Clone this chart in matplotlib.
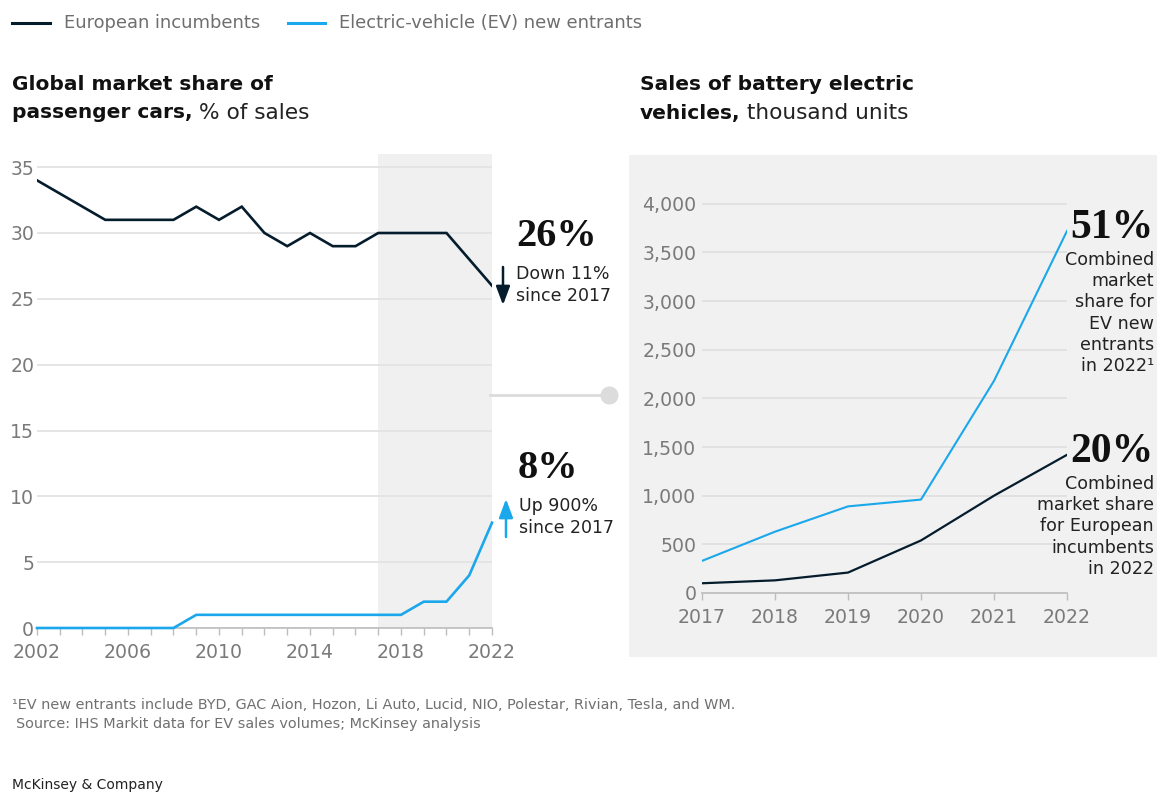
import matplotlib
matplotlib.use("Agg")
import matplotlib.pyplot as plt
from matplotlib.lines import Line2D
from matplotlib.patches import Rectangle
from matplotlib.ticker import FixedLocator, FuncFormatter

# ---------------- data ----------------
years_left = list(range(2002, 2023))
incumbents_share = [34, 33, 32, 31, 31, 31, 31, 32, 31, 32, 30, 29, 30, 29, 29, 30, 30, 30, 30, 28, 26]
ev_share = [0, 0, 0, 0, 0, 0, 0, 1, 1, 1, 1, 1, 1, 1, 1, 1, 1, 2, 2, 4, 8]
left_xticks = [2002, 2006, 2010, 2014, 2018, 2022]
left_yticks = [0, 5, 10, 15, 20, 25, 30, 35]

years_right = [2017, 2018, 2019, 2020, 2021, 2022]
ev_sales = [330, 630, 890, 960, 2180, 3720]
incumbent_sales = [100, 130, 210, 540, 1000, 1420]
right_yticks = [0, 500, 1000, 1500, 2000, 2500, 3000, 3500, 4000]

# ---------------- style ----------------
W, H = 1157, 793
DARK = "#051C2C"
BLUE = "#1AA7EC"
GRID = "#E3E3E3"
SHADE = "#F0F0F0"
TICKC = "#7A7A7A"
TEXTG = "#6E6E6E"
SANS = "DejaVu Sans"
SERIF = "Liberation Serif"

plt.rcParams["font.family"] = [SANS]

fig = plt.figure(figsize=(W / 100, H / 100), dpi=100)
fig.patch.set_facecolor("white")


def fx(x):
    return x / W


def fy(y):
    return 1 - y / H


def add_axes_px(x0, y_top, x1, y_bot):
    return fig.add_axes([fx(x0), fy(y_bot), fx(x1) - fx(x0), fy(y_top) - fy(y_bot)])


# right gray panel
fig.patches.append(Rectangle((fx(629), fy(657)), fx(1157) - fx(629), fy(155) - fy(657),
                             transform=fig.transFigure, facecolor="#F1F1F1", edgecolor="none", zorder=-5))

# ---------------- legend ----------------
fig.add_artist(Line2D([fx(12), fx(50)], [fy(23), fy(23)], color=DARK, lw=2.2))
fig.text(fx(64), fy(23), "European incumbents", fontsize=12.9, color=TEXTG, va="center", ha="left")
fig.add_artist(Line2D([fx(288), fx(325)], [fy(23), fy(23)], color=BLUE, lw=2.2))
fig.text(fx(339), fy(23), "Electric-vehicle (EV) new entrants", fontsize=12.9, color=TEXTG, va="center", ha="left")

# ---------------- titles ----------------
def title(x, y1, y2, l1, l2b, l2r):
    fig.text(fx(x), fy(y1), l1, fontsize=14.5, fontweight="bold", color="#111111", va="center", ha="left")
    t = fig.text(fx(x), fy(y2), l2b, fontsize=14.5, fontweight="bold", color="#111111", va="center", ha="left")
    fig.add_artist(plt.Annotation(l2r, xy=(1, 0.5), xycoords=t, fontsize=15.6, color="#222222",
                                  va="center", ha="left"))


title(12, 84, 113, "Global market share of", "passenger cars,", " % of sales")
title(640, 84, 113, "Sales of battery electric", "vehicles,", " thousand units")

# ---------------- left chart ----------------
axL = add_axes_px(37, 154, 492, 628)
axL.set_facecolor("none")
axL.set_xlim(2002, 2022)
axL.set_ylim(0, 36)
axL.axvspan(2017, 2022, color=SHADE, zorder=0, lw=0)
for v in left_yticks:
    axL.axhline(v, color=GRID, lw=1.3, zorder=1)
axL.plot(years_left, incumbents_share, color=DARK, lw=1.9, zorder=3, solid_joinstyle="miter")
axL.plot(years_left, ev_share, color=BLUE, lw=1.9, zorder=3, clip_on=False)
for s in ["top", "right", "left"]:
    axL.spines[s].set_visible(False)
axL.spines["bottom"].set_color("#BDBDBD")
axL.spines["bottom"].set_linewidth(1.2)
axL.set_yticks(left_yticks)
axL.set_xticks(left_xticks)
axL.xaxis.set_minor_locator(FixedLocator(years_left))
axL.tick_params(axis="y", length=0, pad=2, labelsize=13.6, labelcolor=TICKC)
axL.tick_params(axis="x", which="both", length=5, width=1, color="#BDBDBD", pad=5.5,
                labelsize=13.6, labelcolor=TICKC)

# left annotations
fig.text(fx(516), fy(237), "26%", fontsize=29, fontweight="bold", family=SERIF, color="#111111",
         va="center", ha="left")
fig.text(fx(516), fy(285), "Down 11%\nsince 2017", fontsize=12.5, color="#222222", va="center",
         ha="left", linespacing=1.25)
fig.text(fx(518), fy(468), "8%", fontsize=29, fontweight="bold", family=SERIF, color="#111111",
         va="center", ha="left")
fig.text(fx(519), fy(517), "Up 900%\nsince 2017", fontsize=12.5, color="#222222", va="center",
         ha="left", linespacing=1.25)

fig.add_artist(plt.Annotation("", xy=(fx(503), fy(305)), xytext=(fx(503), fy(267)),
                              xycoords="figure fraction", textcoords="figure fraction",
                              arrowprops=dict(arrowstyle="-|>,head_width=0.3,head_length=0.8",
                                              color=DARK, lw=1.8, shrinkA=0, shrinkB=0,
                                              mutation_scale=14)))
fig.add_artist(plt.Annotation("", xy=(fx(506), fy(499)), xytext=(fx(506), fy(537)),
                              xycoords="figure fraction", textcoords="figure fraction",
                              arrowprops=dict(arrowstyle="-|>,head_width=0.3,head_length=0.8",
                                              color=BLUE, lw=1.8, shrinkA=0, shrinkB=0,
                                              mutation_scale=14)))

# connector
fig.add_artist(Line2D([fx(490), fx(603)], [fy(395), fy(395)], color="#DCDCDC", lw=2))
fig.add_artist(Line2D([fx(609)], [fy(395)], marker="o", markersize=12, color="#DCDCDC", lw=0))

# ---------------- right chart ----------------
axR = add_axes_px(702, 194, 1067, 593)
axR.set_facecolor("none")
axR.set_zorder(2)
axR.set_xlim(2017, 2022)
axR.set_ylim(0, 4100)
for v in right_yticks:
    axR.axhline(v, color="#E0E0E0", lw=1.3, zorder=1)
axR.plot(years_right, ev_sales, color=BLUE, lw=1.5, zorder=3)
axR.plot(years_right, incumbent_sales, color=DARK, lw=1.6, zorder=3)
for s in ["top", "right", "left"]:
    axR.spines[s].set_visible(False)
axR.spines["bottom"].set_color("#BDBDBD")
axR.spines["bottom"].set_linewidth(1.2)
axR.set_yticks(right_yticks)
axR.yaxis.set_major_formatter(FuncFormatter(lambda v, p: f"{int(v):,}"))
axR.set_xticks(years_right)
axR.tick_params(axis="y", length=0, pad=4, labelsize=13.6, labelcolor=TICKC)
axR.tick_params(axis="x", length=5, width=1, color="#BDBDBD", pad=5.5, labelsize=13.6, labelcolor=TICKC)

# right annotations
fig.text(fx(1154), fy(228), "51%", fontsize=30, fontweight="bold", family=SERIF, color="#111111",
         va="center", ha="right")
fig.text(fx(1154), fy(251), "Combined\nmarket\nshare for\nEV new\nentrants\nin 2022\u00b9",
         fontsize=12.6, color="#222222", va="top", ha="right", multialignment="right", linespacing=1.23)
fig.text(fx(1154), fy(452), "20%", fontsize=30, fontweight="bold", family=SERIF, color="#111111",
         va="center", ha="right")
fig.text(fx(1154), fy(475), "Combined\nmarket share\nfor European\nincumbents\nin 2022",
         fontsize=12.6, color="#222222", va="top", ha="right", multialignment="right", linespacing=1.23)

# ---------------- footnotes ----------------
fig.text(fx(12), fy(705), "\u00b9EV new entrants include BYD, GAC Aion, Hozon, Li Auto, Lucid, NIO, Polestar, Rivian, Tesla, and WM.",
         fontsize=10.4, color="#707070", va="center", ha="left")
fig.text(fx(16), fy(724), "Source: IHS Markit data for EV sales volumes; McKinsey analysis",
         fontsize=10.4, color="#707070", va="center", ha="left")
fig.text(fx(12), fy(792), "McKinsey & Company", fontsize=10, color="#222222", va="bottom", ha="left")

fig.savefig("out.png", dpi=100)
